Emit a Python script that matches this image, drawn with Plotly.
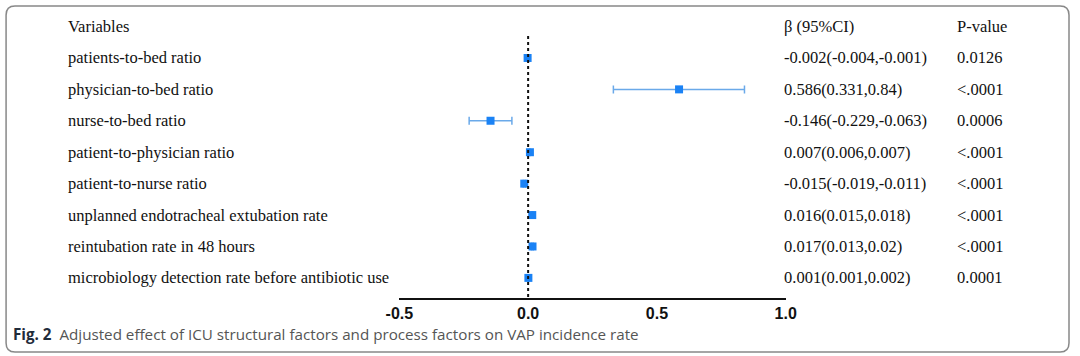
import plotly.graph_objects as go

variables = [
    "patients-to-bed ratio",
    "physician-to-bed ratio",
    "nurse-to-bed ratio",
    "patient-to-physician ratio",
    "patient-to-nurse ratio",
    "unplanned endotracheal extubation rate",
    "reintubation rate in 48 hours",
    "microbiology detection rate before antibiotic use",
]
beta = [-0.002, 0.586, -0.146, 0.007, -0.015, 0.016, 0.017, 0.001]
ci_low = [-0.004, 0.331, -0.229, 0.006, -0.019, 0.015, 0.013, 0.001]
ci_high = [-0.001, 0.84, -0.063, 0.007, -0.011, 0.018, 0.02, 0.002]
ci_text = [
    "-0.002(-0.004,-0.001)",
    "0.586(0.331,0.84)",
    "-0.146(-0.229,-0.063)",
    "0.007(0.006,0.007)",
    "-0.015(-0.019,-0.011)",
    "0.016(0.015,0.018)",
    "0.017(0.013,0.02)",
    "0.001(0.001,0.002)",
]
p_values = ["0.0126", "<.0001", "0.0006", "<.0001", "<.0001", "<.0001", "<.0001", "0.0001"]
tick_vals = [-0.5, 0.0, 0.5, 1.0]
tick_text = ["-0.5", "0.0", "0.5", "1.0"]

W, H = 1080, 356
# observed mapping of paper x to screen pixels in the render
OFF, PW = 11, 1065


def px(x):
    return (x - OFF) / PW


def py(y):
    return 1 - y / H


rows = list(range(1, len(variables) + 1))
err_plus = [h - b for h, b in zip(ci_high, beta)]
err_minus = [b - l for b, l in zip(beta, ci_low)]

fig = go.Figure()
fig.add_trace(go.Scatter(
    x=beta, y=rows, mode="markers",
    marker=dict(symbol="square", size=8, color="#1a82f5"),
    error_x=dict(type="data", symmetric=False, array=err_plus, arrayminus=err_minus,
                 color="#6aa9e9", thickness=1.5, width=4),
    showlegend=False, hoverinfo="skip",
))

# zero reference line
fig.add_shape(type="line", xref="x", yref="y", x0=0, x1=0, y0=0.3, y1=8.64,
              line=dict(color="#111", width=2, dash="dot"))

serif = "Liberation Serif"
FS = 16.5
ann = []


def txt(s, xpix, r):
    ann.append(dict(text=s, x=px(xpix), y=r, xref="paper", yref="y",
                    xanchor="left", yanchor="middle", showarrow=False,
                    font=dict(family=serif, size=FS, color="#111")))


txt("Variables", 63, 0)
txt("β (95%CI)", 786, 0)
txt("P-value", 961, 0)
for r, v, c, p in zip(rows, variables, ci_text, p_values):
    txt(v, 63, r)
    txt(c, 786, r)
    txt(p.replace("<", "&lt;"), 961, r)

ann.append(dict(
    text="<b><span style='color:#1f2b3a'>Fig. 2</span></b>  Adjusted effect of ICU structural factors and process factors on VAP incidence rate",
    x=px(8), y=py(334), xref="paper", yref="paper", xanchor="left", yanchor="middle",
    showarrow=False, font=dict(family="Open Sans", size=15.2, color="#555")))

# rounded frame
x0, x1 = px(3), px(1076)
y0, y1 = py(352), py(6)
rx, ry = 9 / PW, 9 / H
path = (f"M {x0+rx},{y1} L {x1-rx},{y1} Q {x1},{y1} {x1},{y1-ry} "
        f"L {x1},{y0+ry} Q {x1},{y0} {x1-rx},{y0} L {x0+rx},{y0} "
        f"Q {x0},{y0} {x0},{y0+ry} L {x0},{y1-ry} Q {x0},{y1} {x0+rx},{y1} Z")
fig.add_shape(type="path", xref="paper", yref="paper", path=path,
              line=dict(color="#888", width=1.5))

fig.update_layout(
    width=W, height=H, margin=dict(l=0, r=0, t=0, b=0),
    paper_bgcolor="white", plot_bgcolor="rgba(0,0,0,0)",
    annotations=ann,
    xaxis=dict(domain=[px(400), px(790)], range=[-0.5, 1.0], showgrid=False, zeroline=False,
               showline=True, linecolor="#111", linewidth=2,
               tickvals=tick_vals, ticktext=tick_text, ticks="",
               tickfont=dict(family="Arial", size=16, color="#111", weight="bold"),
               anchor="y"),
    yaxis=dict(domain=[(H - 298) / H, 1], range=[8.64, -0.845], showgrid=False,
               zeroline=False, showline=False, showticklabels=False, ticks=""),
)

fig.write_html(
    "out.html",
    config={"displayModeBar": False},
    post_script="document.body.style.margin='0';document.body.style.padding='0';document.body.style.overflow='hidden';",
)
